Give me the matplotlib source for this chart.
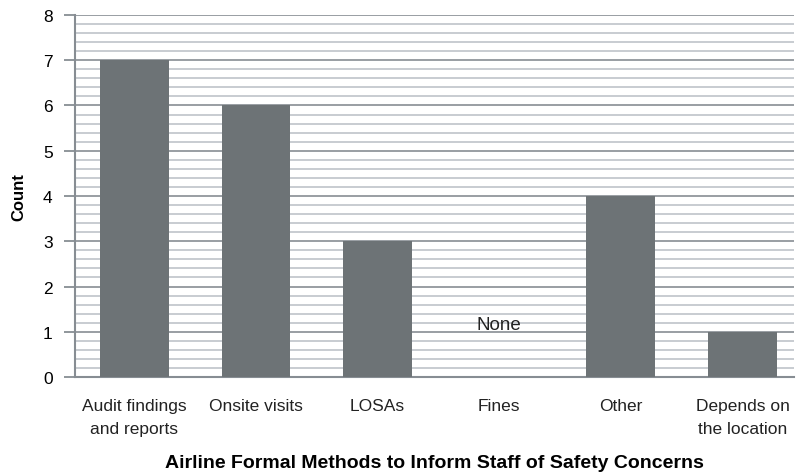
import numpy as np
import matplotlib.pyplot as plt
from matplotlib.ticker import MultipleLocator

plt.rcParams['font.family'] = ['Liberation Sans', 'DejaVu Sans']

categories = ['Audit findings\nand reports', 'Onsite visits', 'LOSAs', 'Fines',
              'Other', 'Depends on\nthe location']
counts = [7, 6, 3, 0, 4, 1]

fig = plt.figure(figsize=(7.96, 4.77), dpi=100)
ax = fig.add_axes([0.094, 0.2075, 0.903, 0.759])

x = np.arange(len(categories))
ax.bar(x, counts, width=0.566, color='#6d7376', zorder=3)

ax.set_ylim(0, 8)
ax.set_xlim(-0.49, 5.42)
ax.yaxis.set_major_locator(MultipleLocator(1))
ax.yaxis.set_minor_locator(MultipleLocator(0.2))
ax.grid(which='major', axis='y', color='#878d93', linewidth=1.2, zorder=1)
ax.grid(which='minor', axis='y', color='#b9bfc5', linewidth=1.1, zorder=1)

for s in ['top', 'right']:
    ax.spines[s].set_visible(False)
ax.spines['left'].set_color('#878d93')
ax.spines['left'].set_linewidth(1.5)
ax.spines['bottom'].set_color('#878d93')
ax.spines['bottom'].set_linewidth(1.5)

ax.set_xticks(x)
ax.set_xticklabels(categories, fontsize=12.5, color='#222222', linespacing=1.7)
ax.tick_params(axis='x', length=0, pad=15)
ax.tick_params(axis='y', which='major', length=8, width=1.3, color='#878d93',
               labelsize=12.5, pad=8)
ax.tick_params(axis='y', which='minor', length=0)

ax.text(3, 1.15, 'None', ha='center', va='center', fontsize=13.5, color='#222222', zorder=4)

ax.set_ylabel('Count', fontsize=12, fontweight='bold', labelpad=12)
ax.set_xlabel('Airline Formal Methods to Inform Staff of Safety Concerns',
              fontsize=14, fontweight='bold', labelpad=13)

plt.savefig('out.png', dpi=100)
